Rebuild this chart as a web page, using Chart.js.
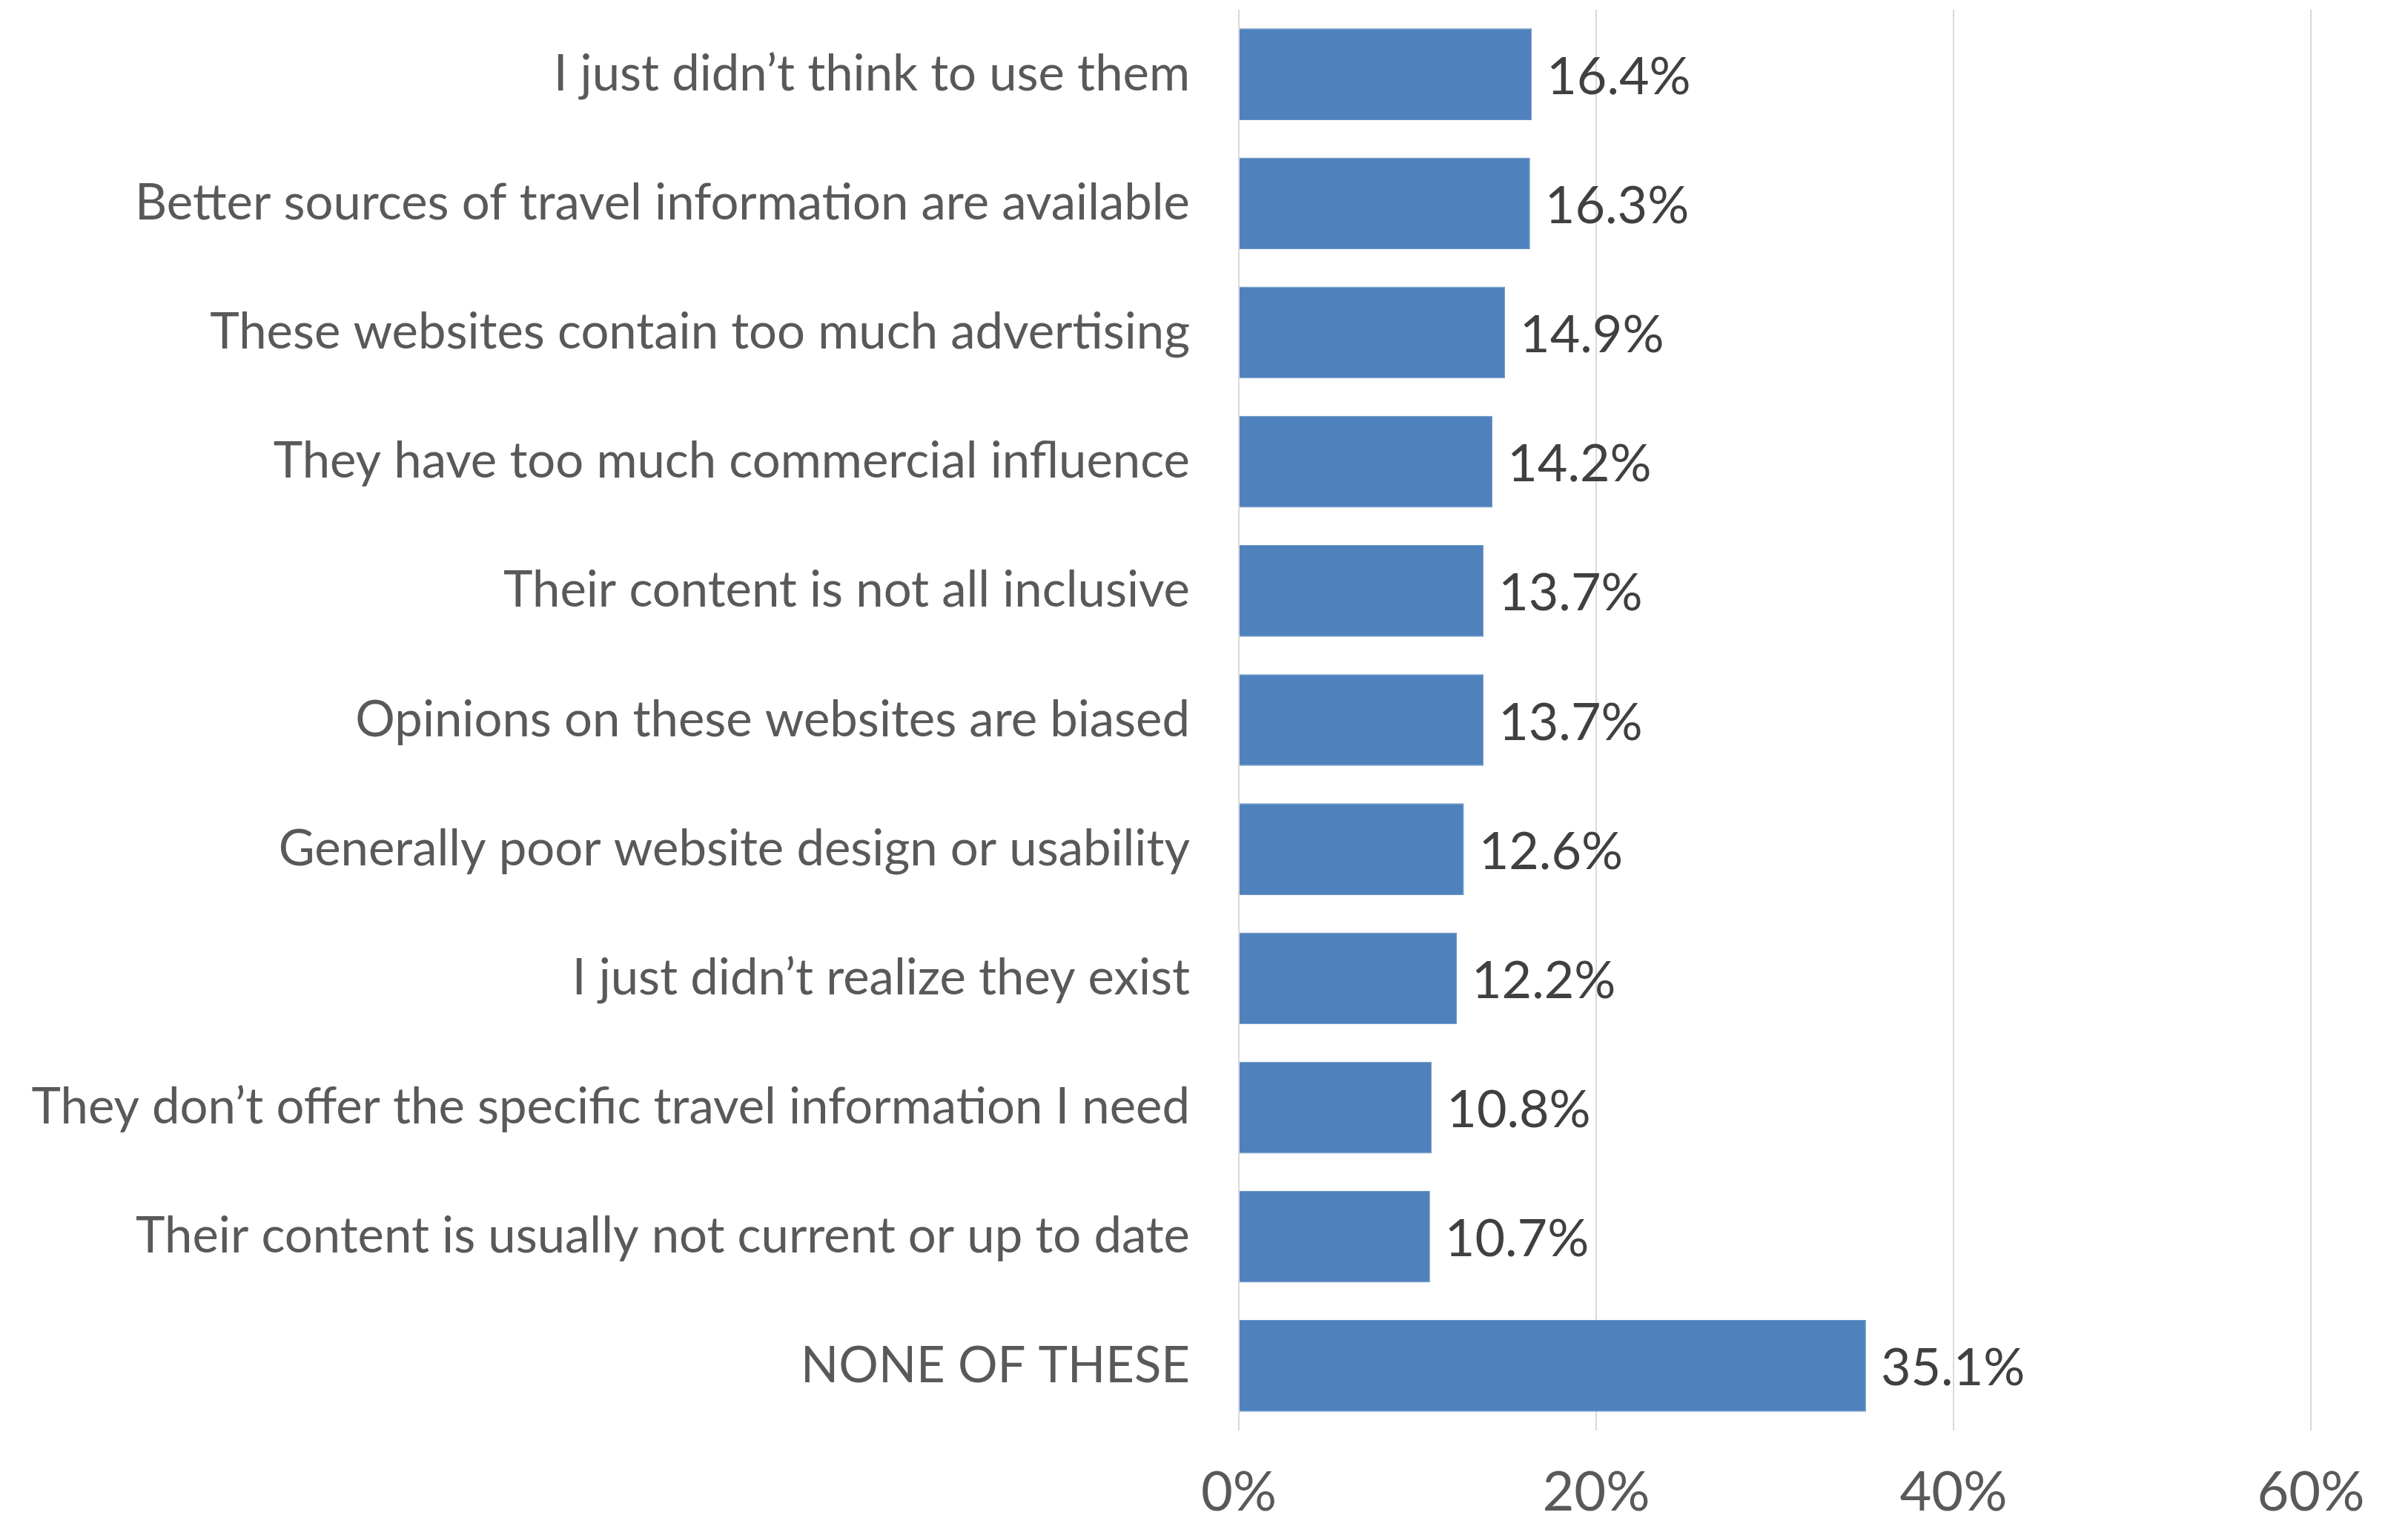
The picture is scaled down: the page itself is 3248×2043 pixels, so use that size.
<!DOCTYPE html>
<html>
<head>
<meta charset="utf-8">
<script src="https://cdn.jsdelivr.net/npm/chart.js@4"></script>
<style>
  html, body { margin: 0; padding: 0; background: #fff; }
  canvas { display: block; }
</style>
</head>
<body>
<canvas id="bar-chart" width="3248" height="2043"></canvas>
<script>
const reasons = [
  "I just didn\u2019t think to use them",
  "Better sources of travel information are available",
  "These websites contain too much advertising",
  "They have too much commercial influence",
  "Their content is not all inclusive",
  "Opinions on these websites are biased",
  "Generally poor website design or usability",
  "I just didn\u2019t realize they exist",
  "They don\u2019t offer the specific travel information I need",
  "Their content is usually not current or up to date",
  "NONE OF THESE"
];
const shares = [16.4, 16.3, 14.9, 14.2, 13.7, 13.7, 12.6, 12.2, 10.8, 10.7, 35.1];
const xTicks = [0, 20, 40, 60];

const FONT = "Lato, 'Noto Sans', sans-serif";

// value text to the right of each bar
const barValues = {
  id: 'barValues',
  afterDatasetsDraw(chart) {
    const ctx = chart.ctx;
    const meta = chart.getDatasetMeta(0);
    ctx.save();
    ctx.font = "70px " + FONT;
    ctx.fillStyle = "#404040";
    ctx.textAlign = "left";
    ctx.textBaseline = "middle";
    meta.data.forEach(function(bar, i) {
      ctx.fillText(shares[i].toFixed(1) + "%", bar.x + 20, bar.y + 4);
    });
    ctx.restore();
  }
};

new Chart(document.getElementById("bar-chart"), {
  type: 'bar',
  data: {
    labels: reasons,
    datasets: [{
      data: shares,
      backgroundColor: "#4f81bd",
      borderColor: "#6d95c9",
      borderWidth: 1,
      categoryPercentage: 1,
      barPercentage: 0.71
    }]
  },
  options: {
    indexAxis: 'y',
    responsive: false,
    animation: false,
    layout: { padding: { top: 13, right: 131, left: 0, bottom: 0 } },
    plugins: {
      legend: { display: false },
      tooltip: { enabled: false }
    },
    scales: {
      x: {
        min: 0,
        max: 60,
        afterBuildTicks(axis) {
          axis.ticks = xTicks.map(v => ({ value: v }));
        },
        afterFit(axis) {
          axis.height = 114;
          axis.paddingLeft = 0;
          axis.paddingRight = 0;
        },
        grid: { color: "#d9d9d9", lineWidth: 2, drawTicks: false },
        border: { display: false },
        ticks: {
          padding: 40,
          color: "#595959",
          font: { family: FONT, size: 74 },
          callback: v => v + "%"
        }
      },
      y: {
        afterFit(axis) {
          axis.width = 1671;
          axis.paddingTop = 0;
          axis.paddingBottom = 0;
        },
        grid: { display: false, drawTicks: false },
        border: { display: false },
        ticks: {
          padding: 66,
          color: "#595959",
          font: { family: FONT, size: 67 }
        }
      }
    }
  },
  plugins: [barValues]
});
</script>
</body>
</html>
